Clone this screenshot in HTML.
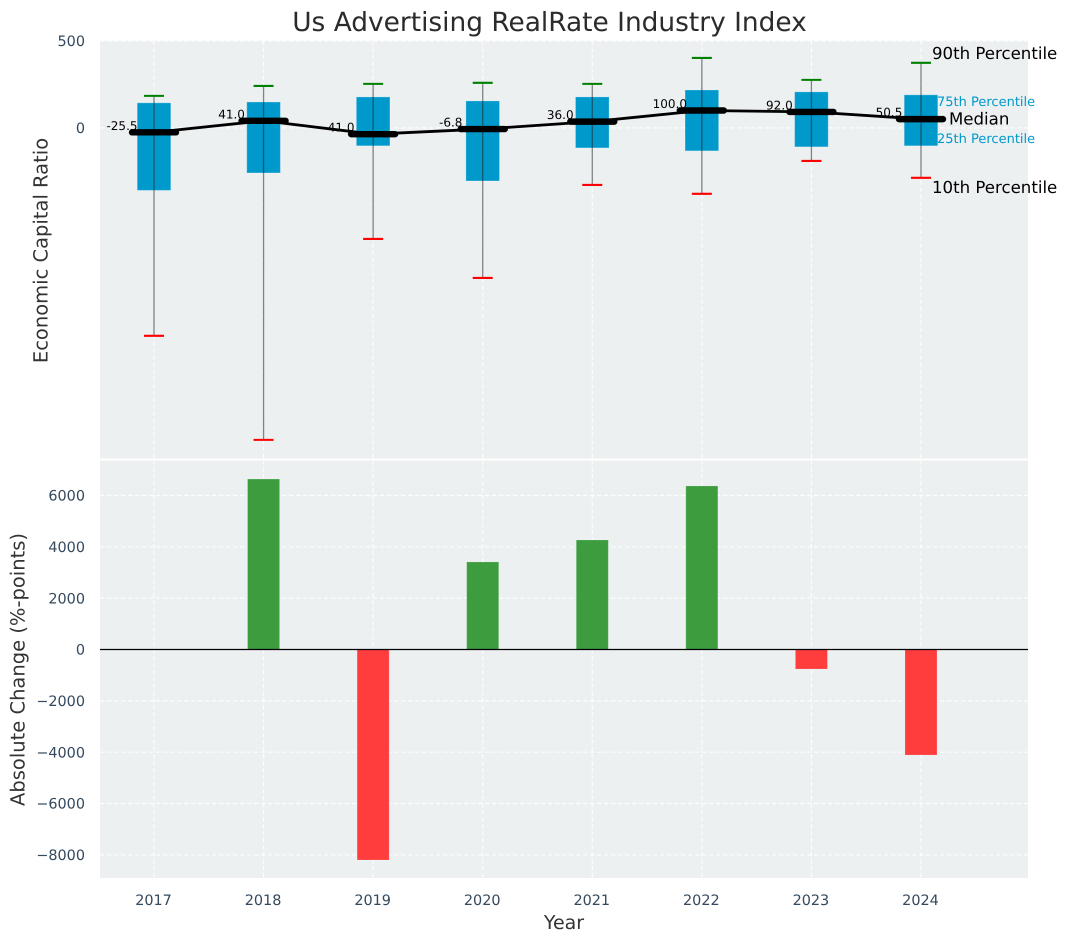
<!DOCTYPE html>
<html>
<head>
<meta charset="utf-8">
<title>Us Advertising RealRate Industry Index</title>
<style>
html,body{margin:0;padding:0;background:#fff;width:1067px;height:942px;overflow:hidden}
svg{display:block;font-family:"DejaVu Sans","Liberation Sans",sans-serif;text-rendering:geometricPrecision}
</style>
</head>
<body>
<svg id="chart" width="1067" height="942" viewBox="0 0 1067 942" xmlns="http://www.w3.org/2000/svg">
<text x="549.5" y="31" font-size="26.4" fill="#2b2b2b" text-anchor="middle">Us Advertising RealRate Industry Index</text>
<text transform="translate(47.5,250.5) rotate(-90)" font-size="19.5" fill="#333" text-anchor="middle">Economic Capital Ratio</text>
<text transform="translate(24.5,669.5) rotate(-90)" font-size="19.5" fill="#333" text-anchor="middle">Absolute Change (%-points)</text>
<text x="564" y="929" font-size="19" fill="#333" text-anchor="middle">Year</text>
</svg>
<script>
const years = [2017, 2018, 2019, 2020, 2021, 2022, 2023, 2024];
const p90 = [184, 241, 253, 259, 253, 402, 276, 374];
const q3 = [144, 149, 178, 155, 178, 218, 207, 190];
const median = [-25.5, 41, -36, -6.8, 36, 100, 92, 50.5];
const q1 = [-359, -259, -103, -305, -115, -132, -109, -103];
const p10 = [-1195, -1793, -638, -862, -328, -379, -190, -287];
const medianLabels = ['-25.5', '41.0', '41.0', '-6.8', '36.0', '100.0', '92.0', '50.5'];
const changes = [null, 6640, -8200, 3410, 4265, 6370, -760, -4110];
const topTicks = [0, 500];
const bottomTicks = [-8000, -6000, -4000, -2000, 0, 2000, 4000, 6000];
const bottomTickLabels = ['\u22128000', '\u22126000', '\u22124000', '\u22122000', '0', '2000', '4000', '6000'];

const svg = document.getElementById('chart');
const NS = 'http://www.w3.org/2000/svg';
const LEFT = 100, RIGHT = 1028;
const TOP_A = 40.5, BOT_A = 459, TOP_B = 460, BOT_B = 878;
const x = function (year) { return 154 + (year - 2017) * 109.57; };
const yTop = function (v) { return 127.9 - v * 0.174; };
const yBot = function (v) { return 649.5 - v * 0.02567; };

function make(tag, attrs, text) {
  const el = document.createElementNS(NS, tag);
  for (const k in attrs) el.setAttribute(k, attrs[k]);
  if (text !== undefined) el.textContent = text;
  svg.appendChild(el);
  return el;
}
const GRID = { stroke: '#ffffff', 'stroke-width': 1.2, 'stroke-dasharray': '4.5 2.5', 'stroke-opacity': 0.85 };

// panels
let el = make('rect', { x: LEFT, y: TOP_A, width: RIGHT - LEFT, height: BOT_A - TOP_A, fill: '#ecf0f1' });


el = make('rect', { x: LEFT, y: TOP_B, width: RIGHT - LEFT, height: BOT_B - TOP_B, fill: '#ecf0f1' });



// grids and x ticks
years.forEach(function (yr) {
  let g = make('line', Object.assign({ x1: x(yr), x2: x(yr), y1: TOP_A, y2: BOT_A }, GRID));
  
  
  g = make('line', Object.assign({ x1: x(yr), x2: x(yr), y1: TOP_B, y2: BOT_B }, GRID));
  
  
  const t = make('text', { x: x(yr) - 0.5, y: 905, 'font-size': 14.4, fill: '#34495e', 'text-anchor': 'middle' }, String(yr));
  
  
});
topTicks.forEach(function (v) {
  const g = make('line', Object.assign({ x1: LEFT, x2: RIGHT, y1: yTop(v), y2: yTop(v) }, GRID));
  
  
  const t = make('text', { x: 85, y: yTop(v) + 5.2, 'font-size': 14.4, fill: '#34495e', 'text-anchor': 'end' }, String(v));
  
  
});
bottomTicks.forEach(function (v, i) {
  const g = make('line', Object.assign({ x1: LEFT, x2: RIGHT, y1: yBot(v), y2: yBot(v) }, GRID));
  
  
  const t = make('text', { x: 85, y: yBot(v) + 5.2, 'font-size': 14.4, fill: '#34495e', 'text-anchor': 'end' }, bottomTickLabels[i]);
  
  
});

// panel separator
el = make('line', { x1: LEFT, x2: RIGHT, y1: 459.5, y2: 459.5, stroke: '#ffffff', 'stroke-width': 2 });



// boxes
years.forEach(function (yr, i) {
  const b = make('rect', { x: x(yr) - 16.8, y: yTop(q3[i]), width: 33.6, height: yTop(q1[i]) - yTop(q3[i]), fill: '#0099cc', stroke: '#ffffff', 'stroke-opacity': 0.25, 'stroke-width': 1 });
  
  
});

// whiskers and caps
years.forEach(function (yr, i) {
  const w = make('line', { x1: x(yr), x2: x(yr), y1: yTop(p90[i]), y2: yTop(p10[i]), stroke: '#222222', 'stroke-opacity': 0.55, 'stroke-width': 1.3 });
  
  
  const c1 = make('line', { x1: x(yr) - 10, x2: x(yr) + 10, y1: yTop(p90[i]), y2: yTop(p90[i]), stroke: '#008000', 'stroke-width': 2.1 });
  
  
  const c2 = make('line', { x1: x(yr) - 10, x2: x(yr) + 10, y1: yTop(p10[i]), y2: yTop(p10[i]), stroke: '#ff0000', 'stroke-width': 2.1 });
  
  
});

// median trend line
el = make('polyline', { points: years.map(function (yr, i) { return x(yr) + ',' + yTop(median[i]); }).join(' '), fill: 'none', stroke: '#000000', 'stroke-width': 2.8 });



years.forEach(function (yr, i) {
  const m = make('line', { x1: x(yr) - 22, x2: x(yr) + 22, y1: yTop(median[i]), y2: yTop(median[i]), stroke: '#000000', 'stroke-width': 6.4, 'stroke-linecap': 'round' });
  
  
  const t = make('text', { x: x(yr) - 32, y: yTop(median[i]) - 2.5, 'font-size': 12, fill: '#000000', 'text-anchor': 'middle' }, medianLabels[i]);
  
  
});

// annotations on the last year
const last = years.length - 1;
const xl = x(years[last]);
el = make('text', { x: xl + 11, y: yTop(p90[last]) - 4, 'font-size': 16.6, fill: '#000' }, '90th Percentile');


el = make('text', { x: xl + 11, y: yTop(p10[last]) + 15, 'font-size': 16.6, fill: '#000' }, '10th Percentile');


el = make('text', { x: xl + 16, y: yTop(q3[last]) + 11.4, 'font-size': 13, fill: '#0099cc' }, '75th Percentile');


el = make('text', { x: xl + 16, y: yTop(q1[last]) - 2.6, 'font-size': 13, fill: '#0099cc' }, '25th Percentile');


el = make('text', { x: xl + 28, y: yTop(median[last]) + 5.5, 'font-size': 16.6, fill: '#000' }, 'Median');



// change bars
changes.forEach(function (v, i) {
  if (v === null) return;
  const top = Math.min(yBot(v), yBot(0));
  const h = Math.abs(yBot(v) - yBot(0));
  const b = make('rect', { x: x(years[i]) - 16, y: top, width: 32, height: h, fill: v >= 0 ? '#3c9c3e' : '#ff3d3d', stroke: '#ffffff', 'stroke-opacity': 0.15, 'stroke-width': 1 });
  
  
});

// zero line
el = make('line', { x1: LEFT, x2: RIGHT, y1: yBot(0), y2: yBot(0), stroke: '#000000', 'stroke-width': 1.3 });


</script>
</body>
</html>
